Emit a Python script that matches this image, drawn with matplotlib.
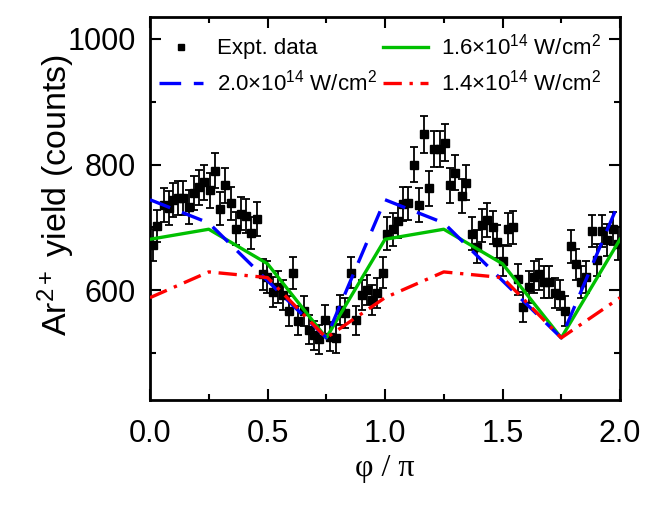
import matplotlib
matplotlib.use("Agg")
import matplotlib.pyplot as plt
from matplotlib.lines import Line2D

plt.rcParams['font.family'] = ['Liberation Sans', 'DejaVu Sans']
plt.rcParams['mathtext.fontset'] = 'custom'
plt.rcParams['mathtext.rm'] = 'Liberation Sans'
plt.rcParams['mathtext.it'] = 'Liberation Sans'

# experimental data
phi_exp = [0.011, 0.031, 0.060, 0.081, 0.099, 0.120, 0.142, 0.166, 0.187, 0.210,
           0.230, 0.255, 0.278, 0.298, 0.320, 0.343, 0.367, 0.389, 0.410, 0.431,
           0.455, 0.480, 0.499, 0.522, 0.546, 0.567, 0.591, 0.610, 0.631, 0.655,
           0.678, 0.699, 0.720, 0.745, 0.766, 0.790, 0.810, 0.831, 0.854, 0.877,
           0.901, 0.922, 0.943, 0.967, 0.990, 1.010, 1.033, 1.057, 1.078, 1.099,
           1.123, 1.146, 1.167, 1.189, 1.207, 1.234, 1.255, 1.277, 1.298, 1.326,
           1.345, 1.369, 1.390, 1.411, 1.435, 1.458, 1.478, 1.501, 1.525, 1.546,
           1.567, 1.589, 1.613, 1.634, 1.657, 1.678, 1.699, 1.723, 1.745, 1.766,
           1.790, 1.813, 1.834, 1.855, 1.880, 1.901, 1.923, 1.943, 1.969, 1.993]
yield_exp = [672, 702, 735, 731, 744, 747, 747, 733, 755, 764,
             772, 759, 790, 730, 767, 738, 698, 722, 718, 691,
             714, 625, 621, 597, 605, 592, 567, 627, 551, 567,
             537, 528, 522, 553, 526, 523, 568, 563, 628, 552,
             592, 600, 584, 595, 628, 690, 697, 710, 737, 738,
             800, 735, 848, 762, 825, 825, 835, 767, 787, 750,
             771, 690, 669, 703, 712, 700, 677, 647, 697, 700,
             617, 573, 605, 621, 625, 613, 613, 595, 592, 567,
             670, 641, 613, 621, 694, 648, 694, 680, 698, 674]
yerr_exp = [26, 26, 27, 27, 27, 27, 27, 27, 27, 28,
            28, 28, 28, 27, 28, 27, 26, 27, 27, 26,
            27, 25, 25, 24, 25, 24, 24, 25, 23, 24,
            23, 23, 23, 24, 23, 23, 24, 24, 25, 23,
            24, 24, 24, 24, 25, 26, 26, 27, 27, 27,
            28, 27, 29, 28, 29, 29, 29, 28, 28, 27,
            28, 26, 26, 27, 27, 26, 26, 25, 26, 26,
            25, 24, 25, 25, 25, 25, 25, 24, 24, 24,
            26, 25, 25, 25, 26, 25, 26, 26, 26, 26]

# calculations
phi_calc = [0.0, 0.25, 0.5, 0.75, 1.0, 1.25, 1.5, 1.75, 2.0]
calc_20 = [744, 707, 615, 524, 744, 707, 615, 524, 744]
calc_16 = [681, 697, 642, 524, 681, 697, 642, 524, 681]
calc_14 = [588, 629, 620, 524, 588, 629, 620, 524, 588]

xticks = [0.0, 0.5, 1.0, 1.5, 2.0]
yticks = [600, 800, 1000]

fig = plt.figure(figsize=(6.46, 5.11), dpi=100)
ax = fig.add_axes([0.2322, 0.2172, 0.7276, 0.7495])

ax.errorbar(phi_exp, yield_exp, yerr=yerr_exp, fmt='s', color='black',
            ms=6, capsize=3.2, elinewidth=1.3, capthick=1.3, zorder=3)
h16, = ax.plot(phi_calc, calc_16, color='#00c000', lw=2.4, zorder=4)
h20, = ax.plot(phi_calc, calc_20, color='#0000ff', lw=2.4, ls=(0, (6.5, 3.8)),
               zorder=4)
h14, = ax.plot(phi_calc, calc_14, color='#ff0000', lw=2.4,
               ls=(0, (5.5, 2.3, 1, 2.3)), zorder=4)
h_exp = Line2D([], [], ls='none', marker='s', color='black', ms=5)

ax.set_xlim(0, 2.0)
ax.set_ylim(425, 1035)
ax.set_xticks(xticks)
ax.set_xticklabels(['%.1f' % t for t in xticks])
ax.set_yticks(yticks)
ax.set_xticks([0.25, 0.75, 1.25, 1.75], minor=True)
ax.set_yticks([500, 700, 900], minor=True)
ax.tick_params(which='both', direction='in', top=True, right=True,
               labelsize=22, width=1.5, pad=10)
ax.tick_params(axis='x', which='both', pad=14)
ax.tick_params(which='major', length=8)
ax.tick_params(which='minor', length=4)
for s in ax.spines.values():
    s.set_linewidth(2)

ax.set_xlabel('φ / π', fontsize=23, family=['Liberation Serif', 'DejaVu Serif'],
              labelpad=3)
ax.set_ylabel(r'Ar$^{2+}$ yield (counts)', fontsize=24.5)
ax.yaxis.set_label_coords(-0.155, 0.535)

leg = ax.legend([h_exp, h20, h16, h14],
                ['Expt. data', r'2.0$\times$10$^{14}$ W/cm$^{2}$',
                 r'1.6$\times$10$^{14}$ W/cm$^{2}$', r'1.4$\times$10$^{14}$ W/cm$^{2}$'],
                ncol=2, loc='upper left', frameon=False, fontsize=16,
                handlelength=2.0, columnspacing=0.3, handletextpad=0.6,
                bbox_to_anchor=(0.0, 0.98), borderaxespad=0.1, borderpad=0.3,
                labelspacing=0.45)

fig.savefig('out.png', dpi=100)
